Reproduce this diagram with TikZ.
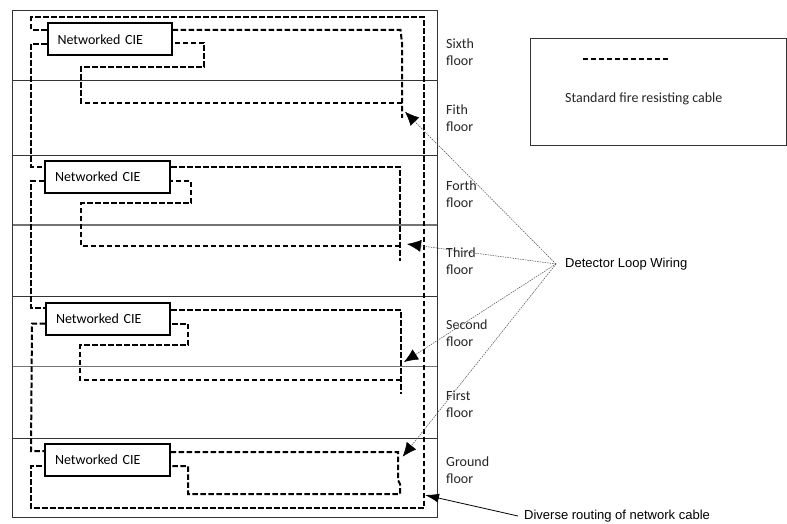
\documentclass[tikz,border=0pt]{standalone}
\usepackage{fontspec}
\setmainfont{Carlito}
\newfontfamily\labelfont{Liberation Sans}
\usetikzlibrary{arrows.meta}
\begin{document}
\begin{tikzpicture}[
    x=1pt, y=-1pt,
    font=\fontsize{14}{17}\selectfont,
    frame/.style={draw=black!80, line width=0.9pt},
    floorline/.style={draw=black!80, line width=0.8pt},
    heavyline/.style={draw=black!55, line width=1.3pt},
    cable/.style={draw=black, line width=2pt, dash pattern=on 5.5pt off 2.5pt},
    cie/.style={draw=black, line width=2pt, minimum height=31.5pt, text width=104pt,
                inner xsep=10pt, inner ysep=0pt, align=left},
    floorlabel/.style={anchor=west, align=left, inner sep=0pt, text=black!85},
    callout/.style={draw=black!70, line width=0.5pt, dash pattern=on 1.5pt off 1pt,
                    -{Latex[length=14pt,width=12pt,black]}},
    sidenote/.style={anchor=west, inner ysep=0pt, font=\labelfont\fontsize{13}{15}\selectfont}
]
\useasboundingbox (0,0) rectangle (787,524);
\fill[white] (0,0) rectangle (787,524);

% building and floors
\draw[frame] (12.5,10) rectangle (437,517);
\foreach \y in {80.5,155,296,438}
    \draw[floorline] (12.5,\y) -- (437,\y);
\foreach \y in {225,366.7}
    \draw[heavyline] (12.5,\y) -- (437,\y);

\node[cie] (cieSix) at (109.5,39.25) {Networked CIE};
\node[cie, text width=105pt] (cieFour) at (107.5,176.85) {Networked CIE};
\node[cie] (cieTwo) at (108,318.85) {Networked CIE};
\node[cie, text width=104.5pt] (cieGround) at (107.25,459.85) {Networked CIE};

\foreach \y/\a in {52.5/Sixth,118.5/Fith,194/Forth,261/Third,333/Second,404/First,470.5/Ground}
    \node[floorlabel] at (446,\y) {\a\\floor};

% network cable
\draw[cable] (cieSix.west |- 0,30) -- (31,30) -- (31,17.5) -- (424,17.5) -- (424,508)
    -- (31,508) -- (31,466) -- (cieGround.west |- 0,466);
\draw[cable] (cieSix.west |- 0,44) -- (31,44) -- (31,167) -- (cieFour.west |- 0,167);
\draw[cable] (cieFour.west |- 0,181) -- (31,181) -- (31,308) -- (cieTwo.west |- 0,308);
\draw[cable] (cieTwo.west |- 0,323.5) -- (32,323.5) -- (31,451) -- (cieGround.west |- 0,451);

% detector loops
\draw[cable] (cieSix.east |- 0,30) -- (400.5,30) -- (402,43) -- (402,118);
\draw[cable] (402,103) -- (81,103) -- (81,67) -- (204,67) -- (204,43) -- (cieSix.east |- 0,43);
\draw[cable] (cieFour.east |- 0,167) -- (400,167) -- (400,261);
\draw[cable] (400,246) -- (81,246) -- (81,203) -- (191,203) -- (191,181) -- (cieFour.east |- 0,181);
\draw[cable] (cieTwo.east |- 0,310) -- (401,310) -- (401,394);
\draw[cable] (401,380) -- (80,380) -- (80,345) -- (188,345) -- (188,323.5) -- (cieTwo.east |- 0,323.5);
\draw[cable] (cieGround.east |- 0,452) -- (398,452) -- (398,480) -- (400,484) -- (400,494)
    -- (188,494) -- (188,466) -- (cieGround.east |- 0,466);

% callouts
\node[sidenote, inner xsep=9pt] (wiring) at (556,264) {Detector Loop Wiring};
\coordinate (tipFith) at (405,111.7);
\coordinate (tipThird) at (407,244);
\coordinate (tipSecond) at (404,362);
\coordinate (tipGround) at (402.7,456.7);
\foreach \t in {tipFith,tipThird,tipSecond,tipGround}
    \draw[callout] (wiring.west) -- (\t);

\node[sidenote, inner xsep=6pt] (diverse) at (518,516) {Diverse routing of network cable};
\coordinate (tipCable) at (425,495);
\draw[draw=black, line width=0.8pt, -{Latex[length=14pt,width=9pt]}] (diverse.west) -- (tipCable);

% legend
\draw[frame] (530,38) rectangle (786.5,145.7);
\coordinate (sampleA) at (582.7,59);
\coordinate (sampleB) at (670,59);
\draw[cable, line width=1.5pt] (sampleA) -- (sampleB);
\node[floorlabel] (legend) at (565,99) {Standard fire resisting cable};
\end{tikzpicture}
\end{document}
